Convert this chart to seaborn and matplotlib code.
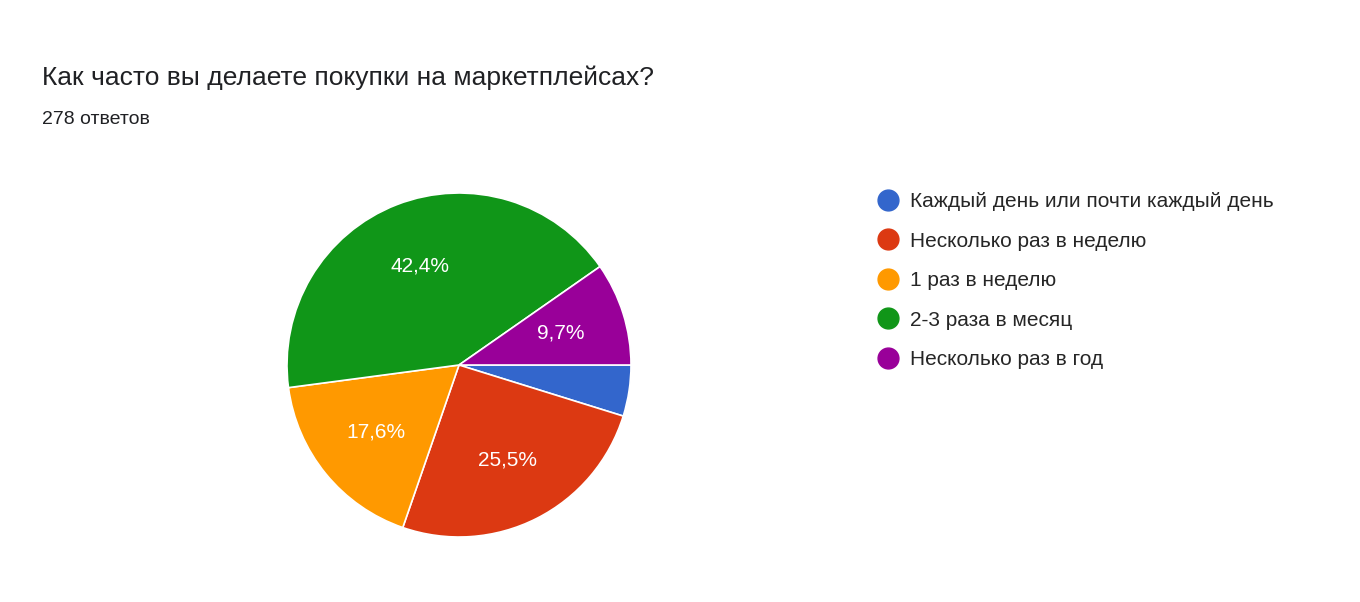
#Pie chart of how often people buy on marketplaces (Google Forms style)

import matplotlib
matplotlib.use('Agg')
from matplotlib import pyplot as plt
from matplotlib.lines import Line2D
import seaborn as sns

### Data
answers = ['Каждый день или почти каждый день', 'Несколько раз в неделю',
           '1 раз в неделю', '2-3 раза в месяц', 'Несколько раз в год']
percent = [4.8, 25.5, 17.6, 42.4, 9.7]
colors = ['#3366cc', '#dc3912', '#ff9900', '#109618', '#990099']

sns.set_theme(style='white')
plt.rcParams['font.family'] = ['Liberation Sans', 'DejaVu Sans']

def label_fn(x):
    # google forms hides labels on tiny slices
    return '' if x < 5 else '{:.1f}%'.format(x).replace('.', ',')

fig = plt.figure(figsize=[13.6, 6.02], dpi=100)
ax = fig.add_axes([(459 - 172)/1360, 1 - (365 + 172)/602, 344/1360, 344/602])
patches, texts, pcts = ax.pie(percent, colors=colors, autopct=label_fn, startangle=0,
                              counterclock=False, pctdistance=0.62,
                              wedgeprops={'edgecolor': 'white', 'linewidth': 1.2})
plt.setp(pcts, color='white', fontsize=15)
ax.set_xlim(-1, 1)
ax.set_ylim(-1, 1)
ax.set_aspect('equal')

fig.text(42/1360, 1 - 78/602, 'Как часто вы делаете покупки на маркетплейсах?',
         fontsize=19, color='#202124', va='center')
fig.text(42/1360, 1 - 120/602, '278 ответов', fontsize=14, color='#202124', va='center')

markers = [Line2D([], [], marker='o', linestyle='', markersize=15, color=c) for c in colors]
fig.legend(markers, answers, loc='upper left', bbox_to_anchor=(864/1360, 1 - 184/602),
           frameon=False, fontsize=15, labelspacing=0.98, handletextpad=0.3,
           handlelength=1.5, borderaxespad=0)

fig.savefig('out.png', dpi=100)
